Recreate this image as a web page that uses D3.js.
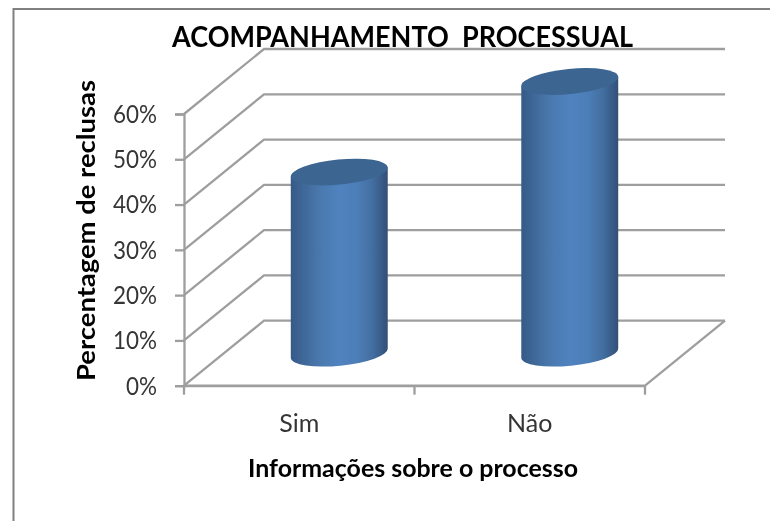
<!DOCTYPE html>
<html><head><meta charset="utf-8">
<script src="https://cdn.jsdelivr.net/npm/d3@7"></script>
<style>html,body{margin:0;padding:0;background:#fff}svg{display:block}text{font-family:Lato,"Open Sans",sans-serif}</style>
</head><body><div id="c"></div>
<script>
const categories = ["Sim", "Não"];
const values = [40, 60];
const yTicks = [0, 10, 20, 30, 40, 50, 60];
const titleText = "ACOMPANHAMENTO  PROCESSUAL";
const xTitle = "Informações sobre o processo";
const yTitle = "Percentagem de reclusas";

const W = 770, H = 521;
const x0 = 184, x1 = 645, yB = 385.7, yT = 114;
const depthX = 80, depthY = 65;
const grid = "#9e9e9e";

const svg = d3.select("#c").append("svg").attr("width", W).attr("height", H);
const defs = svg.append("defs");
const blur = defs.append("filter").attr("id", "soft").attr("x", "-5%").attr("y", "-5%").attr("width", "110%").attr("height", "110%");
blur.append("feGaussianBlur").attr("stdDeviation", 0.45);
const g = defs.append("linearGradient").attr("id", "cyl").attr("x1", 0).attr("x2", 1).attr("y1", 0).attr("y2", 0);
[[0, "#365a87"], [0.12, "#3e6796"], [0.3, "#4a78ae"], [0.5, "#5083bf"], [0.68, "#4d7eb8"], [0.85, "#426d9f"], [1, "#324f76"]]
  .forEach(d => g.append("stop").attr("offset", d[0]).attr("stop-color", d[1]));

const root = svg.append("g").attr("filter", "url(#soft)");

// outer frame (cropped at right and bottom)
root.append("path").attr("d", `M13.5,${H + 5}V9H${W + 5}`).attr("fill", "none").attr("stroke", "#808080").attr("stroke-width", 2);

const y = d3.scaleLinear().domain([0, 60]).range([yB, yT]);
const x = d3.scaleBand().domain(categories).range([x0, x1]);

// walls: back gridlines + left-wall diagonals
const wall = root.append("g").attr("fill", "none").attr("stroke", grid).attr("stroke-width", 2.3);
wall.selectAll("path").data(yTicks).join("path")
  .attr("d", d => `M${x0},${y(d)}L${x0 + depthX},${y(d) - depthY}H${x1 + depthX}`);
// floor right edge and front edge
wall.append("path").attr("d", `M${x0},${yB}H${x1}L${x1 + depthX},${yB - depthY}`);

// axes
const axisY = d3.axisLeft(y).tickValues(yTicks).tickSize(9).tickPadding(18).tickFormat(d => d + "%");
const gy = root.append("g").attr("transform", `translate(${x0},0)`).call(axisY);
const axisX = d3.axisBottom(x).tickSize(0).tickPadding(29);
const gx = root.append("g").attr("transform", `translate(0,${yB})`).call(axisX);
root.append("g").attr("stroke", grid).attr("stroke-width", 2.3).selectAll("line")
  .data([x0, (x0 + x1) / 2, x1]).join("line")
  .attr("x1", d => d).attr("x2", d => d).attr("y1", yB).attr("y2", yB + 9);
[gy, gx].forEach(a => {
  a.selectAll("path.domain").attr("stroke", grid).attr("stroke-width", 2.3);
  a.selectAll(".tick line").attr("stroke", grid).attr("stroke-width", 2.3);
  a.selectAll("text").attr("fill", "#363636").attr("font-family", "Lato,'Open Sans',sans-serif");
});
gx.selectAll("text").attr("font-size", 25);
gy.selectAll("text").attr("font-size", 24.5).attr("dy", "0.34em")
  .attr("textLength", d => d === 0 ? 31 : 44).attr("lengthAdjust", "spacingAndGlyphs");

// cylinders
const rx = 48.7, ry = 12.6, tilt = -5.6;
const rad = tilt * Math.PI / 180;
const ox = rx * Math.cos(rad), oy = rx * Math.sin(rad);
const bars = root.append("g").selectAll("g").data(categories.map((c, i) => ({ c, v: values[i] }))).join("g");
bars.each(function (d) {
  const cx = x(d.c) + x.bandwidth() / 2 + depthX / 2;
  const base = y(0) - depthY / 2;
  const top = y(d.v) - depthY / 2;
  const s = d3.select(this);
  s.append("path")
    .attr("d", `M${cx - ox},${top - oy}L${cx - ox},${base - oy}A${rx},${ry} ${tilt} 0 0 ${cx + ox},${base + oy}L${cx + ox},${top + oy}Z`)
    .attr("fill", "url(#cyl)");
  s.append("ellipse")
    .attr("cx", cx).attr("cy", top).attr("rx", rx).attr("ry", ry)
    .attr("transform", `rotate(${tilt} ${cx} ${top})`)
    .attr("fill", "#3d6592");
});

// titles
root.append("text").attr("x", 402.5).attr("y", 47).attr("text-anchor", "middle")
  .attr("font-size", 28).attr("font-weight", 700).attr("fill", "#000").style("white-space", "pre")
  .attr("textLength", 461).attr("lengthAdjust", "spacingAndGlyphs").text(titleText);
root.append("text").attr("x", 413).attr("y", 477).attr("text-anchor", "middle")
  .attr("font-size", 24.5).attr("font-weight", 700).attr("fill", "#000")
  .attr("textLength", 330).attr("lengthAdjust", "spacingAndGlyphs").text(xTitle);
root.append("text").attr("transform", "translate(95,230.5) rotate(-90)").attr("text-anchor", "middle")
  .attr("font-size", 24.5).attr("font-weight", 700).attr("fill", "#000")
  .attr("textLength", 301).attr("lengthAdjust", "spacingAndGlyphs").text(yTitle);
</script></body></html>
